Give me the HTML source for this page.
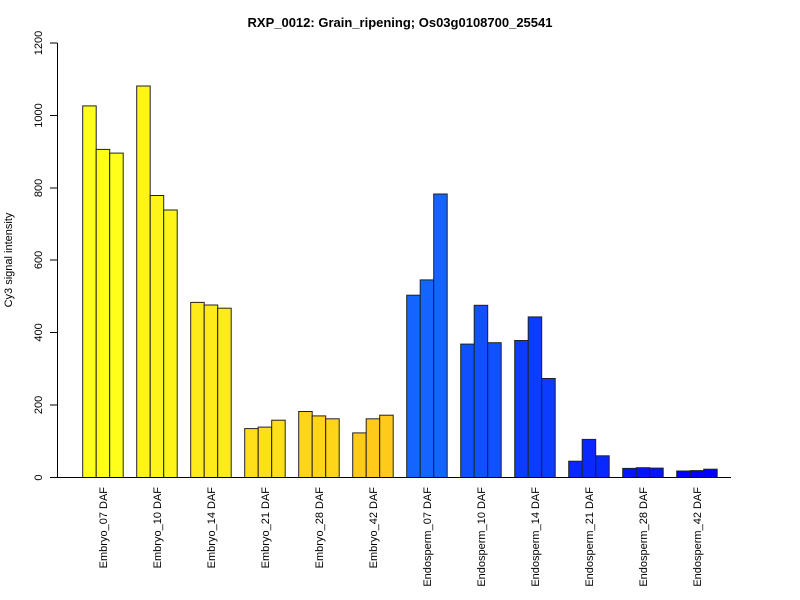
<!DOCTYPE html>
<html><head><meta charset="utf-8"><style>body{margin:0;background:#fff}svg{display:block}</style></head><body>
<svg width="800" height="600" xmlns="http://www.w3.org/2000/svg" font-family="Liberation Sans, sans-serif">
<text x="400" y="27" text-anchor="middle" font-size="13" font-weight="bold">RXP_0012: Grain_ripening; Os03g0108700_25541</text>
<line x1="57.5" y1="43" x2="57.5" y2="477.5" stroke="#000"/>
<g stroke="#000">
<line x1="50" y1="477.5" x2="57.5" y2="477.5"/><line x1="50" y1="405" x2="57.5" y2="405"/><line x1="50" y1="332.5" x2="57.5" y2="332.5"/><line x1="50" y1="260" x2="57.5" y2="260"/><line x1="50" y1="188" x2="57.5" y2="188"/><line x1="50" y1="115.5" x2="57.5" y2="115.5"/><line x1="50" y1="43" x2="57.5" y2="43"/>
</g>
<g font-size="11" text-anchor="middle">
<text transform="translate(42,477.5) rotate(-90)">0</text>
<text transform="translate(42,405) rotate(-90)">200</text>
<text transform="translate(42,332.5) rotate(-90)">400</text>
<text transform="translate(42,260) rotate(-90)">600</text>
<text transform="translate(42,188) rotate(-90)">800</text>
<text transform="translate(42,115.5) rotate(-90)">1000</text>
<text transform="translate(42,43) rotate(-90)">1200</text>
<text transform="translate(12,260) rotate(-90)">Cy3 signal intensity</text>
</g>
<g stroke="#222" stroke-width="1">
<g fill="#ffff1a" transform="translate(82.7,0)"><rect x="0" y="105.9" width="13.5" height="371.6"/><rect x="13.5" y="149.4" width="13.5" height="328.1"/><rect x="27" y="153.1" width="13.5" height="324.4"/></g>
<g fill="#fff41a" transform="translate(136.7,0)"><rect x="0" y="86" width="13.5" height="391.5"/><rect x="13.5" y="195.5" width="13.5" height="282"/><rect x="27" y="210" width="13.5" height="267.5"/></g>
<g fill="#ffea1a" transform="translate(190.7,0)"><rect x="0" y="302.4" width="13.5" height="175.1"/><rect x="13.5" y="305" width="13.5" height="172.5"/><rect x="27" y="308.2" width="13.5" height="169.3"/></g>
<g fill="#ffdf1a" transform="translate(244.7,0)"><rect x="0" y="428.6" width="13.5" height="48.9"/><rect x="13.5" y="427.1" width="13.5" height="50.4"/><rect x="27" y="420.2" width="13.5" height="57.3"/></g>
<g fill="#ffd51a" transform="translate(298.7,0)"><rect x="0" y="411.5" width="13.5" height="66"/><rect x="13.5" y="415.9" width="13.5" height="61.6"/><rect x="27" y="418.8" width="13.5" height="58.7"/></g>
<g fill="#ffca1a" transform="translate(352.7,0)"><rect x="0" y="432.9" width="13.5" height="44.6"/><rect x="13.5" y="418.8" width="13.5" height="58.7"/><rect x="27" y="415.2" width="13.5" height="62.3"/></g>
<g fill="#1464ff" transform="translate(406.7,0)"><rect x="0" y="295.2" width="13.5" height="182.3"/><rect x="13.5" y="279.9" width="13.5" height="197.6"/><rect x="27" y="194" width="13.5" height="283.5"/></g>
<g fill="#1050ff" transform="translate(460.7,0)"><rect x="0" y="344.1" width="13.5" height="133.4"/><rect x="13.5" y="305.3" width="13.5" height="172.2"/><rect x="27" y="342.7" width="13.5" height="134.8"/></g>
<g fill="#0c3cff" transform="translate(514.7,0)"><rect x="0" y="340.5" width="13.5" height="137"/><rect x="13.5" y="316.9" width="13.5" height="160.6"/><rect x="27" y="378.5" width="13.5" height="99"/></g>
<g fill="#0828ff" transform="translate(568.7,0)"><rect x="0" y="461.2" width="13.5" height="16.3"/><rect x="13.5" y="439.4" width="13.5" height="38.1"/><rect x="27" y="455.8" width="13.5" height="21.7"/></g>
<g fill="#0414ff" transform="translate(622.7,0)"><rect x="0" y="468.4" width="13.5" height="9.1"/><rect x="13.5" y="467.7" width="13.5" height="9.8"/><rect x="27" y="468.1" width="13.5" height="9.4"/></g>
<g fill="#0000ff" transform="translate(676.7,0)"><rect x="0" y="471" width="13.5" height="6.5"/><rect x="13.5" y="470.6" width="13.5" height="6.9"/><rect x="27" y="469.2" width="13.5" height="8.3"/></g>
</g>
<line x1="57" y1="477.5" x2="731" y2="477.5" stroke="#000"/>
<g font-size="11" text-anchor="end">
<text transform="translate(107.2,487) rotate(-90)">Embryo_07 DAF</text>
<text transform="translate(161.2,487) rotate(-90)">Embryo_10 DAF</text>
<text transform="translate(215.2,487) rotate(-90)">Embryo_14 DAF</text>
<text transform="translate(269.2,487) rotate(-90)">Embryo_21 DAF</text>
<text transform="translate(323.2,487) rotate(-90)">Embryo_28 DAF</text>
<text transform="translate(377.2,487) rotate(-90)">Embryo_42 DAF</text>
<text transform="translate(431.2,487) rotate(-90)">Endosperm_07 DAF</text>
<text transform="translate(485.2,487) rotate(-90)">Endosperm_10 DAF</text>
<text transform="translate(539.2,487) rotate(-90)">Endosperm_14 DAF</text>
<text transform="translate(593.2,487) rotate(-90)">Endosperm_21 DAF</text>
<text transform="translate(647.2,487) rotate(-90)">Endosperm_28 DAF</text>
<text transform="translate(701.2,487) rotate(-90)">Endosperm_42 DAF</text>
</g>
</svg>
</body></html>
